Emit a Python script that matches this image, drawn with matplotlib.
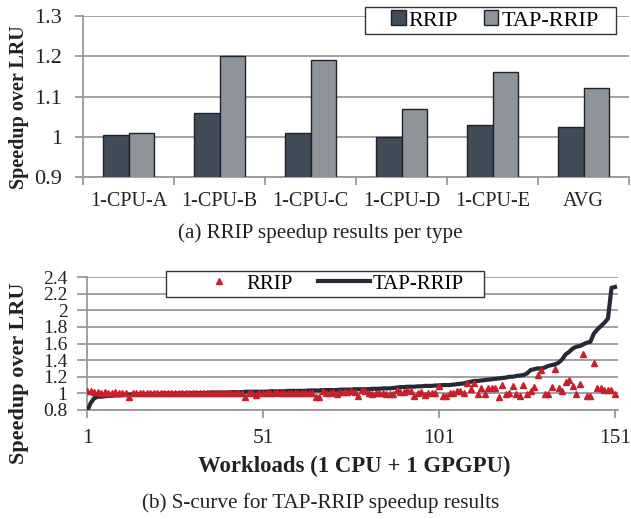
import numpy as np
import matplotlib
matplotlib.use('Agg')
import matplotlib.pyplot as plt
from matplotlib.lines import Line2D
from matplotlib.patches import Patch, Rectangle

plt.rcParams['font.family'] = ['Liberation Serif', 'DejaVu Serif']

#Data (a)
types = ['1-CPU-A', '1-CPU-B', '1-CPU-C', '1-CPU-D', '1-CPU-E', 'AVG']
rrip_type = [1.005, 1.06, 1.01, 1.0, 1.03, 1.025]
tap_type = [1.01, 1.20, 1.19, 1.07, 1.16, 1.12]

#Data (b), 151 workloads
workloads = np.arange(1, 152)
tap_curve = [0.78, 0.88, 0.94, 0.96, 0.96, 0.965, 0.97, 0.97, 0.975, 0.975,
             0.98, 0.98, 0.985, 0.985, 0.99, 0.99, 0.99, 0.99, 0.995, 0.995,
             0.995, 0.995, 1.0, 1.0, 1.0, 1.0, 1.0, 1.0, 1.0, 1.0,
             1.005, 1.005, 1.005, 1.005, 1.005, 1.01, 1.01, 1.01, 1.01, 1.01,
             1.01, 1.015, 1.015, 1.015, 1.015, 1.02, 1.02, 1.02, 1.02, 1.02,
             1.02, 1.02, 1.025, 1.025, 1.025, 1.025, 1.025, 1.03, 1.03, 1.03,
             1.03, 1.03, 1.03, 1.035, 1.035, 1.035, 1.035, 1.04, 1.04, 1.04,
             1.04, 1.04, 1.045, 1.045, 1.045, 1.045, 1.05, 1.05, 1.05, 1.05,
             1.05, 1.055, 1.055, 1.055, 1.06, 1.06, 1.06, 1.065, 1.07, 1.075,
             1.075, 1.08, 1.08, 1.08, 1.085, 1.085, 1.09, 1.09, 1.09, 1.095,
             1.095, 1.10, 1.10, 1.10, 1.105, 1.11, 1.115, 1.12, 1.13, 1.14,
             1.15, 1.15, 1.155, 1.16, 1.165, 1.17, 1.175, 1.18, 1.185, 1.19,
             1.20, 1.20, 1.21, 1.215, 1.22, 1.24, 1.28, 1.29, 1.30, 1.30,
             1.31, 1.33, 1.34, 1.35, 1.37, 1.41, 1.47, 1.50, 1.54, 1.56,
             1.57, 1.59, 1.61, 1.62, 1.72, 1.77, 1.81, 1.85, 1.90, 2.27,
             2.28]
rrip_curve = [1.03, 1.03, 1.02, 1.02, 1.01, 1.02, 1.01, 1.01, 1.02, 1.01,
              1.0, 1.01, 0.96, 1.0, 1.0, 1.01, 1.0, 1.0, 1.01, 1.0,
              1.0, 1.0, 1.0, 1.01, 1.0, 1.0, 1.0, 1.0, 1.0, 1.0,
              1.0, 1.0, 1.0, 1.0, 1.0, 1.01, 1.0, 1.0, 1.0, 1.0,
              1.0, 1.0, 1.0, 1.0, 1.0, 0.955, 1.0, 1.0, 0.98, 1.01,
              1.01, 1.01, 1.01, 1.01, 1.02, 1.01, 1.01, 1.01, 1.01, 1.0,
              1.0, 1.0, 1.01, 1.01, 1.01, 0.96, 0.955, 1.03, 1.0, 1.0,
              1.02, 0.99, 1.02, 1.02, 1.02, 1.03, 1.02, 0.97, 1.04, 1.03,
              1.0, 0.99, 1.01, 1.01, 1.0, 0.99, 0.99, 0.99, 1.04, 1.02,
              1.02, 1.04, 1.03, 0.97, 1.01, 1.02, 0.98, 1.0, 1.01, 1.0,
              1.09, 0.97, 0.97, 1.01, 1.0, 1.03, 1.03, 1.01, 1.12, 1.05,
              1.12, 0.99, 1.07, 0.99, 1.06, 1.06, 1.07, 0.96, 1.10, 0.99,
              1.01, 1.09, 0.99, 0.97, 1.10, 0.99, 1.03, 1.08, 1.22, 1.28,
              0.99, 0.99, 1.08, 1.29, 1.06, 1.03, 1.14, 1.16, 1.09, 0.99,
              1.11, 1.47, 0.97, 0.97, 1.36, 1.07, 1.07, 1.04, 1.04, 1.04,
              0.99]

W, H = 631, 519
dark = '#414c59'
light = '#8f949b'
grid_c = '#9a9a9a'
txt_c = '#222222'
edge_c = '#1e222a'

fig = plt.figure(figsize=(W/100, H/100), dpi=100)

def px_axes(x0, y0, x1, y1):
    return fig.add_axes([x0/W, 1-y1/H, (x1-x0)/W, (y1-y0)/H])

def px_box(x0, y0, x1, y1):
    # legend frame drawn in figure pixels
    fig.patches.append(Rectangle((x0/W, 1-y1/H), (x1-x0)/W, (y1-y0)/H,
                                 transform=fig.transFigure, facecolor='white',
                                 edgecolor='#333333', linewidth=1, zorder=5))

def style(ax):
    for s in ['top', 'right']:
        ax.spines[s].set_visible(False)
    for s in ['left', 'bottom']:
        ax.spines[s].set_color(grid_c)
        ax.spines[s].set_linewidth(1.3)
    ax.yaxis.grid(True, color=grid_c, linewidth=1.3)
    ax.set_axisbelow(True)
    ax.tick_params(colors=grid_c, labelcolor=txt_c, width=1.3)

# (a) bars
ax1 = px_axes(83, 16, 629, 177)
style(ax1)
x = np.arange(len(types))
bw = 0.285
ax1.bar(x - bw/2, rrip_type, bw, color=dark, edgecolor=edge_c, linewidth=1, zorder=3)
ax1.bar(x + bw/2, tap_type, bw, color=light, edgecolor=edge_c, linewidth=1, zorder=3)
ax1.set_xlim(-0.5, len(types) - 0.5)
ax1.set_ylim(0.9, 1.3)
ax1.set_yticks([0.9, 1.0, 1.1, 1.2, 1.3])
ax1.set_yticklabels(['0.9', '1', '1.1', '1.2', '1.3'])
ax1.set_xticks(x)
ax1.set_xticklabels(types)
ax1.set_xticks(np.arange(len(types) + 1) - 0.5, minor=True)
ax1.tick_params(axis='x', which='major', length=0, labelsize=14.5, pad=11)
ax1.tick_params(axis='x', which='minor', length=6, colors=grid_c, width=1.3)
ax1.tick_params(axis='y', length=6, labelsize=16, pad=9)

px_box(365, 7, 616, 34)
leg1 = fig.legend([Patch(facecolor=dark, edgecolor=edge_c),
                   Patch(facecolor=light, edgecolor=edge_c)],
                  ['RRIP', 'TAP-RRIP'], ncol=2, loc='center',
                  bbox_to_anchor=(495/W, 1-20.5/H), fontsize=16,
                  handlelength=0.65, handleheight=0.65, handletextpad=0.15,
                  columnspacing=1.15, frameon=False, borderpad=0, borderaxespad=0)
leg1.set_zorder(6)

# (b) S-curve
ax2 = px_axes(87, 277, 618, 410)
style(ax2)
ax2.plot(workloads, tap_curve, color='#262a35', linewidth=3, zorder=3)
ax2.plot(workloads, rrip_curve, linestyle='none', marker='^', markersize=4.5,
         color='#c8202a', zorder=4)
ax2.set_xlim(1, 151.85)
ax2.set_ylim(0.8, 2.4)
yt = [0.8, 1.0, 1.2, 1.4, 1.6, 1.8, 2.0, 2.2, 2.4]
ax2.set_yticks(yt)
ax2.set_yticklabels(['0.8', '1', '1.2', '1.4', '1.6', '1.8', '2', '2.2', '2.4'])
ax2.set_xticks([1, 51, 101, 151])
ax2.tick_params(axis='y', length=7, labelsize=14, pad=7)
ax2.tick_params(axis='x', length=6, labelsize=15.5, pad=8)

px_box(166, 271, 484, 297)
leg2 = fig.legend([Line2D([], [], linestyle='none', marker='^', markersize=4.5, color='#c8202a'),
                   Line2D([], [], color='#262a35', linewidth=3)],
                  ['RRIP', 'TAP-RRIP'], ncol=2, loc='center',
                  bbox_to_anchor=(328/W, 1-284/H), fontsize=15,
                  handlelength=2.5, handletextpad=0.1, columnspacing=1.2,
                  frameon=False, borderpad=0, borderaxespad=0)
leg2.set_zorder(6)

# labels and captions
fig.text(19/W, 1-107/H, 'Speedup over LRU', rotation=90, ha='center', va='center',
         fontsize=14.5, fontweight='bold', color=txt_c)
fig.text(19/W, 1-373/H, 'Speedup over LRU', rotation=90, ha='center', va='center',
         fontsize=16, fontweight='bold', color=txt_c)
fig.text(354/W, 1-466/H, 'Workloads (1 CPU + 1 GPGPU)', ha='center', va='center',
         fontsize=16.4, fontweight='bold', color=txt_c)
fig.text(320/W, 1-233/H, '(a) RRIP speedup results per type', ha='center', va='center',
         fontsize=15.2, color=txt_c)
fig.text(321/W, 1-503/H, '(b) S-curve for TAP-RRIP speedup results', ha='center', va='center',
         fontsize=15.2, color=txt_c)

plt.savefig('out.png', dpi=100)
